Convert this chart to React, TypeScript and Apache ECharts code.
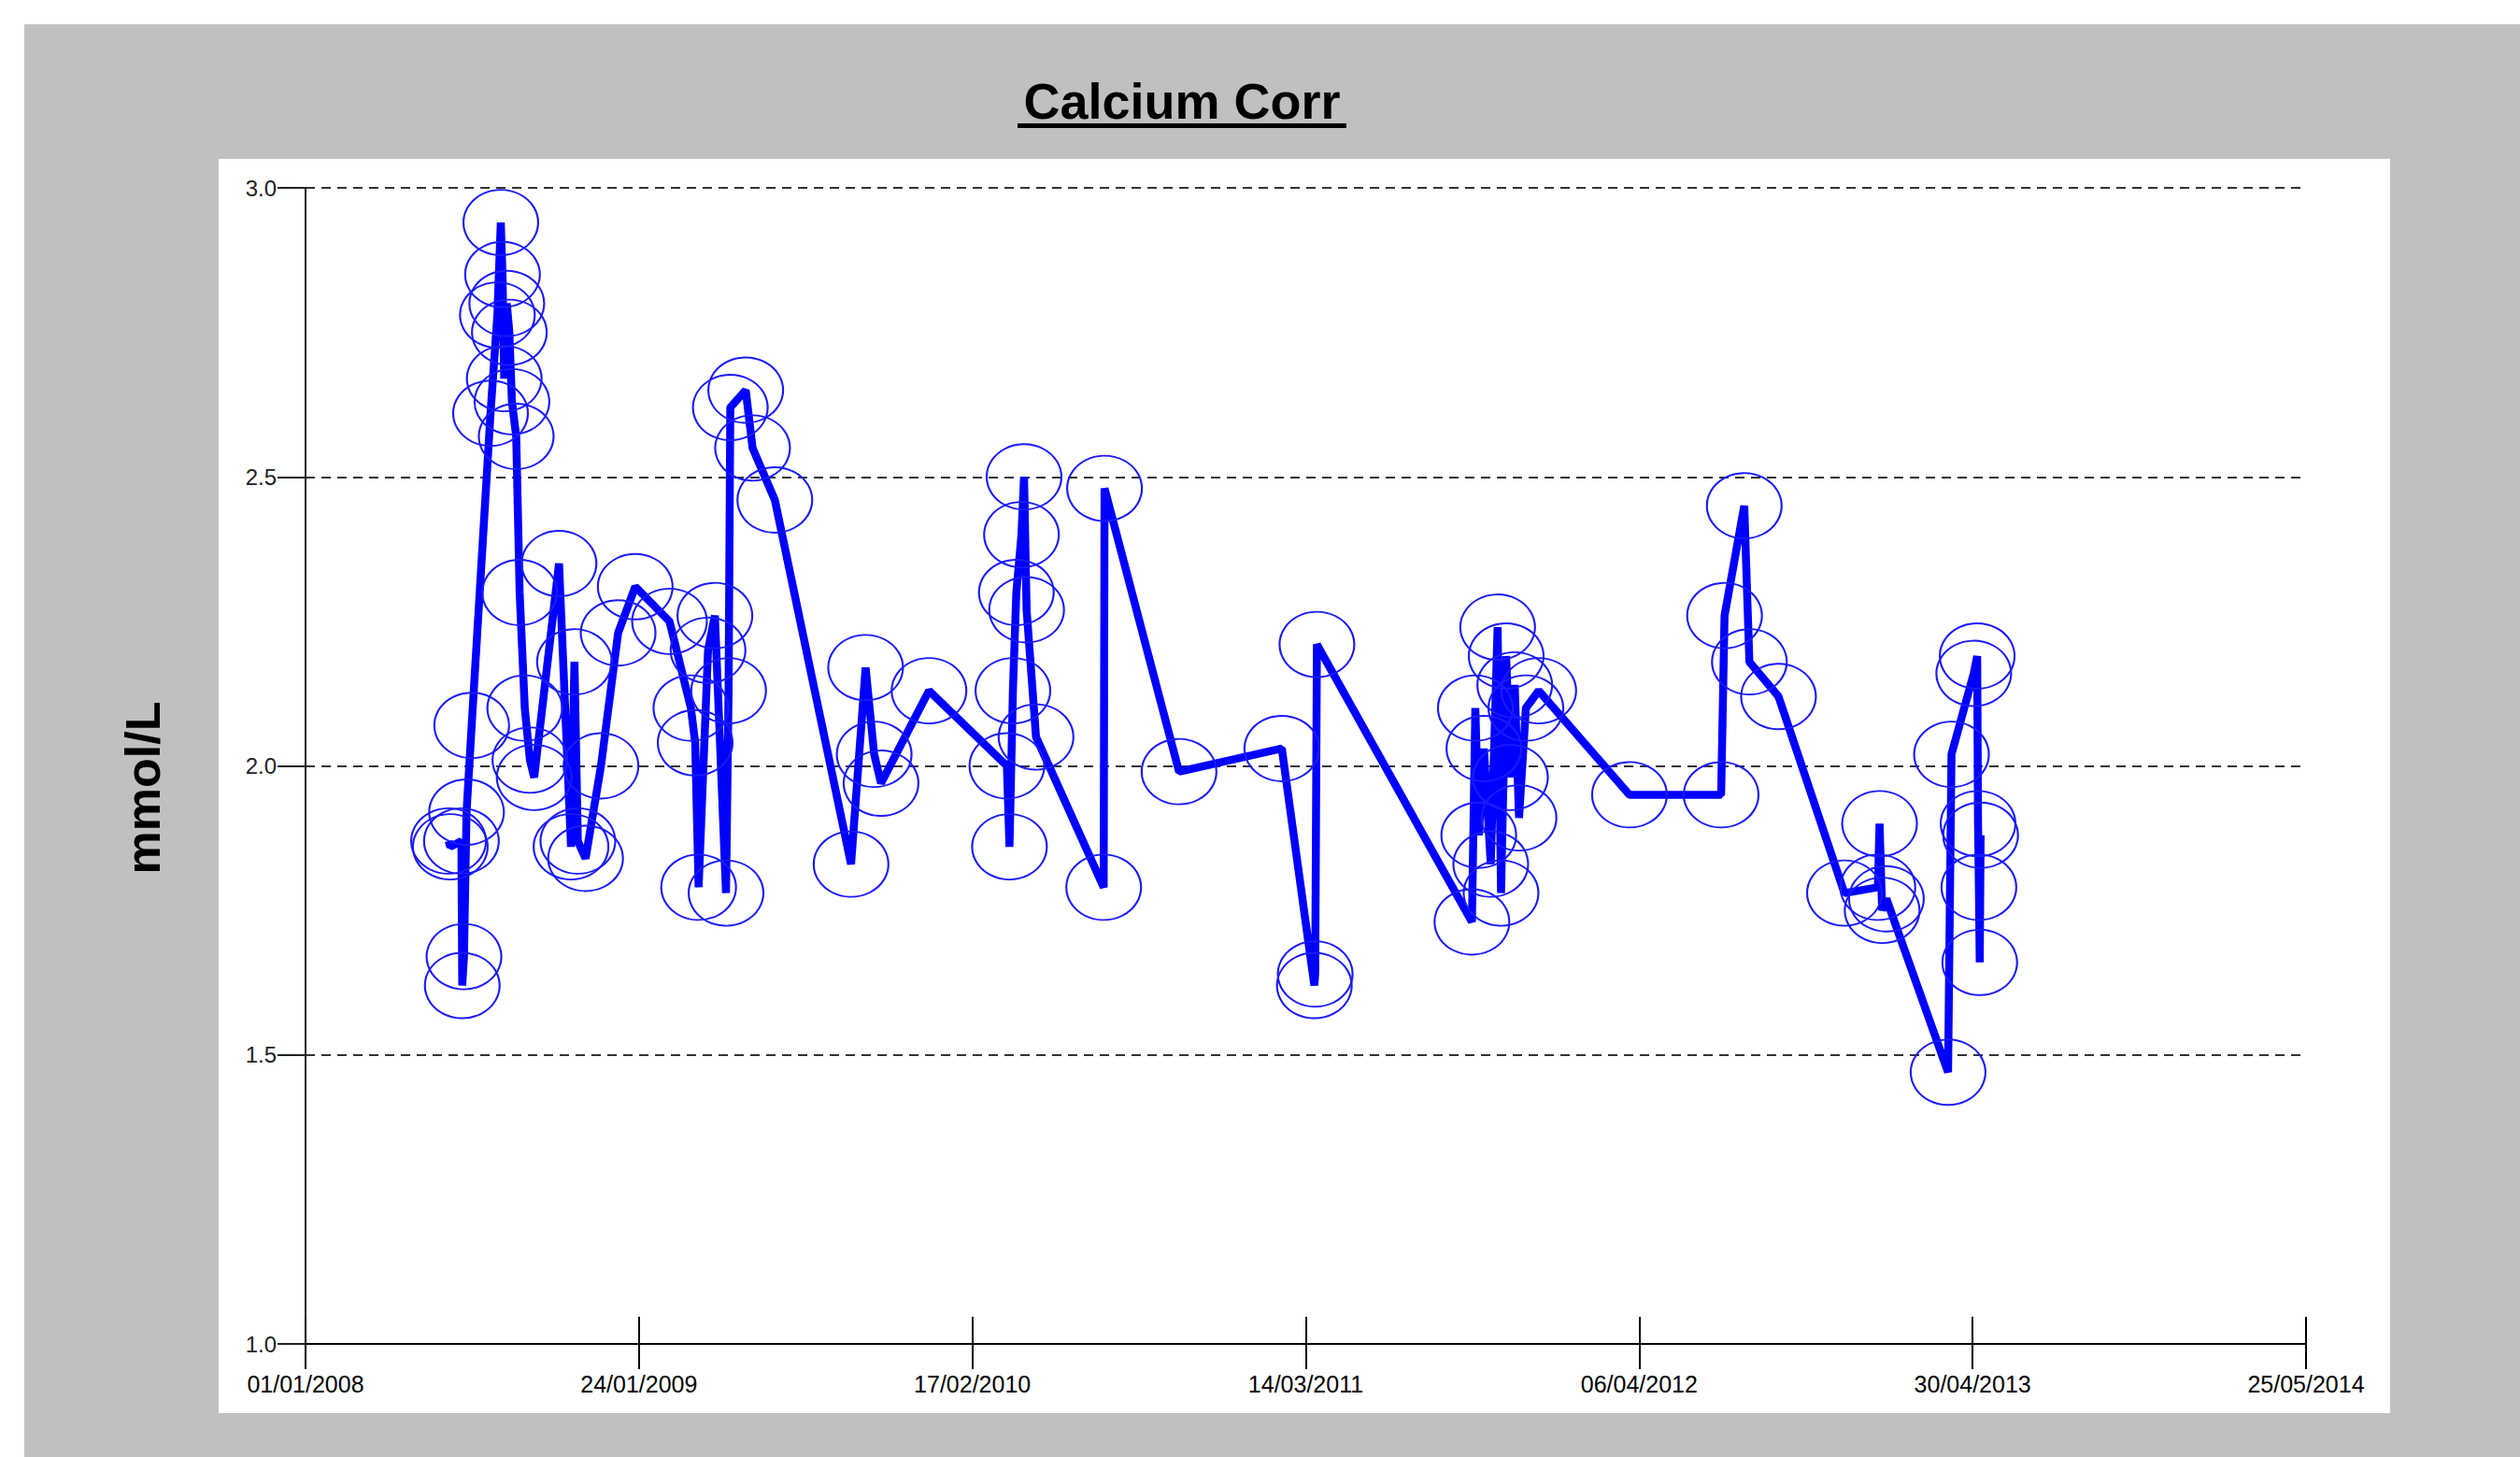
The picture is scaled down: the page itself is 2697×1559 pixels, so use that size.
import React, { useEffect, useRef } from "react";
import * as echarts from "echarts";

const TITLE = "Calcium Corr";
const Y_NAME = "mmol/L";
const X_START = "2008-01-01";
const X_END = "2014-05-25";
const X_TICK_LABELS = ["01/01/2008", "24/01/2009", "17/02/2010", "14/03/2011", "06/04/2012", "30/04/2013", "25/05/2014"];
const Y_MIN = 1.0;
const Y_MAX = 3.0;
const Y_STEP = 0.5;

const DATES = [
  "2008-06-16", "2008-06-18", "2008-07-01", "2008-07-02", "2008-07-04", "2008-07-07", "2008-07-13",
  "2008-08-04", "2008-08-12", "2008-08-16", "2008-08-18", "2008-08-20", "2008-08-23", "2008-08-26",
  "2008-08-29", "2008-09-03", "2008-09-07", "2008-09-13", "2008-09-19", "2008-09-24", "2008-10-23",
  "2008-11-06", "2008-11-10", "2008-11-14", "2008-11-23", "2008-12-11", "2008-12-31", "2009-01-20",
  "2009-03-01", "2009-03-26", "2009-03-31", "2009-04-04", "2009-04-15", "2009-04-23", "2009-05-06",
  "2009-05-09", "2009-05-11", "2009-05-29", "2009-06-06", "2009-07-02", "2009-09-29", "2009-10-16",
  "2009-10-26", "2009-11-03", "2009-12-29", "2010-03-30", "2010-04-02", "2010-04-06", "2010-04-10",
  "2010-04-16", "2010-04-19", "2010-04-22", "2010-05-03", "2010-07-21", "2010-07-22", "2010-10-17",
  "2011-02-14", "2011-03-24", "2011-03-25", "2011-03-27", "2011-09-24", "2011-09-28", "2011-10-02",
  "2011-10-08", "2011-10-16", "2011-10-24", "2011-10-28", "2011-11-03", "2011-11-08", "2011-11-13",
  "2011-11-18", "2011-11-26", "2011-12-11", "2012-03-26", "2012-07-11", "2012-07-15", "2012-08-07",
  "2012-08-13", "2012-09-16", "2012-12-02", "2013-01-10", "2013-01-12", "2013-01-15", "2013-01-20",
  "2013-04-02", "2013-04-06", "2013-05-02", "2013-05-06", "2013-05-07", "2013-05-08", "2013-05-09",
  "2013-05-10",
];

const VALUES = [
  1.87, 1.86, 1.87, 1.62, 1.67, 1.92, 2.07,
  2.61, 2.78, 2.94, 2.85, 2.67, 2.80, 2.75,
  2.63, 2.57, 2.30, 2.10, 2.01, 1.98, 2.35,
  1.86, 2.18, 1.87, 1.84, 2.00, 2.23, 2.31,
  2.25, 2.10, 2.04, 1.79, 2.20, 2.26, 1.78,
  2.13, 2.62, 2.65, 2.55, 2.46, 1.83, 2.17,
  2.02, 1.97, 2.13, 2.00, 1.86, 2.13, 2.30,
  2.40, 2.50, 2.27, 2.05, 1.79, 2.48, 1.99,
  2.03, 1.62, 1.64, 2.21, 1.73, 2.10, 1.88,
  2.03, 1.83, 2.24, 1.78, 2.19, 1.98, 2.14,
  1.91, 2.10, 2.13, 1.95, 1.95, 2.26, 2.45,
  2.18, 2.12, 1.78, 1.79, 1.90, 1.75, 1.77,
  1.47, 2.02, 2.16, 2.19, 1.90, 1.79, 1.66,
  1.88,
];

const DAY_MS = 86400000;
const dayOffset = (iso: string) => (Date.parse(iso) - Date.parse(X_START)) / DAY_MS;
const TOTAL_DAYS = dayOffset(X_END);
const TICK_COUNT = X_TICK_LABELS.length - 1;
const STEP_DAYS = TOTAL_DAYS / TICK_COUNT;

const W = 2697;
const H = 1559;
const FONT = '"Liberation Sans", Arial, Helvetica, sans-serif';

export default function App() {
  const ref = useRef<HTMLDivElement>(null);

  useEffect(() => {
    if (!ref.current) return;
    const chart = echarts.init(ref.current, null, { renderer: "svg" });
    const data = DATES.map((d, i) => [dayOffset(d) / STEP_DAYS, VALUES[i]]);

    const option: any = {
      animation: false,
      backgroundColor: "#ffffff",
      graphic: [
        {
          type: "rect",
          z: -100,
          silent: true,
          shape: { x: 26, y: 26, width: W - 26, height: H - 26 },
          style: { fill: "#c0c0c0" },
        },
        {
          type: "rect",
          z: -99,
          silent: true,
          shape: { x: 234, y: 170, width: 2324, height: 1342 },
          style: { fill: "#ffffff" },
        },
        {
          type: "text",
          z: 10,
          x: 1265,
          y: 108,
          style: {
            text: TITLE,
            fill: "#000",
            fontSize: 54,
            fontWeight: "bold",
            fontFamily: FONT,
            align: "center",
            verticalAlign: "middle",
            textAlign: "center",
            textVerticalAlign: "middle",
          },
        },
        {
          type: "rect",
          z: 10,
          silent: true,
          shape: { x: 1089, y: 132, width: 352, height: 5 },
          style: { fill: "#000" },
        },
        {
          type: "text",
          z: 10,
          x: 153,
          y: 843,
          rotation: Math.PI / 2,
          style: {
            text: Y_NAME,
            fill: "#000",
            fontSize: 52,
            fontWeight: "bold",
            fontFamily: FONT,
            align: "center",
            verticalAlign: "middle",
            textAlign: "center",
            textVerticalAlign: "middle",
          },
        },
      ],
      grid: { left: 327, right: W - 2468, top: 201, bottom: H - 1438, containLabel: false },
      xAxis: [
        {
          type: "value",
          min: 0,
          max: TICK_COUNT,
          interval: 1,
          axisLine: { show: true, onZero: false, lineStyle: { color: "#000", width: 2 } },
          axisTick: { show: true, inside: false, length: 27, lineStyle: { color: "#000", width: 2 } },
          axisLabel: {
            show: true,
            margin: 30,
            color: "#000",
            fontSize: 25,
            fontFamily: FONT,
            showMinLabel: true,
            showMaxLabel: true,
            hideOverlap: false,
            formatter: (v: number) => X_TICK_LABELS[Math.round(v)] ?? "",
          },
          splitLine: { show: false },
        },
        {
          type: "value",
          min: 0,
          max: TICK_COUNT,
          interval: 1,
          position: "bottom",
          axisLine: { show: false, onZero: false },
          axisTick: { show: true, inside: true, length: 29, lineStyle: { color: "#000", width: 2 } },
          axisLabel: { show: false },
          splitLine: { show: false },
        },
      ],
      yAxis: {
        type: "value",
        min: Y_MIN,
        max: Y_MAX,
        interval: Y_STEP,
        axisLine: { show: true, onZero: false, lineStyle: { color: "#222", width: 2 } },
        axisTick: { show: true, inside: false, length: 30, lineStyle: { color: "#222", width: 2 } },
        axisLabel: {
          margin: 31,
          color: "#222",
          fontSize: 24,
          fontFamily: FONT,
          formatter: (v: number) => v.toFixed(1),
        },
        splitLine: {
          show: true,
          lineStyle: { color: "#333", width: 2, type: [10, 7] },
        },
      },
      series: [
        {
          type: "line",
          xAxisIndex: 0,
          yAxisIndex: 0,
          data,
          symbol: "circle",
          symbolSize: [80, 70],
          showAllSymbol: true,
          itemStyle: { color: "rgba(0,0,0,0)", borderColor: "#1a1aff", borderWidth: 2 },
          lineStyle: { color: "#0000ff", width: 8.5 },
          emphasis: { disabled: true },
          z: 5,
        },
      ],
    };

    chart.setOption(option);
    return () => chart.dispose();
  }, []);

  return (
    <div
      ref={ref}
      style={{ position: "fixed", left: 0, top: 0, width: W, height: H }}
    />
  );
}
